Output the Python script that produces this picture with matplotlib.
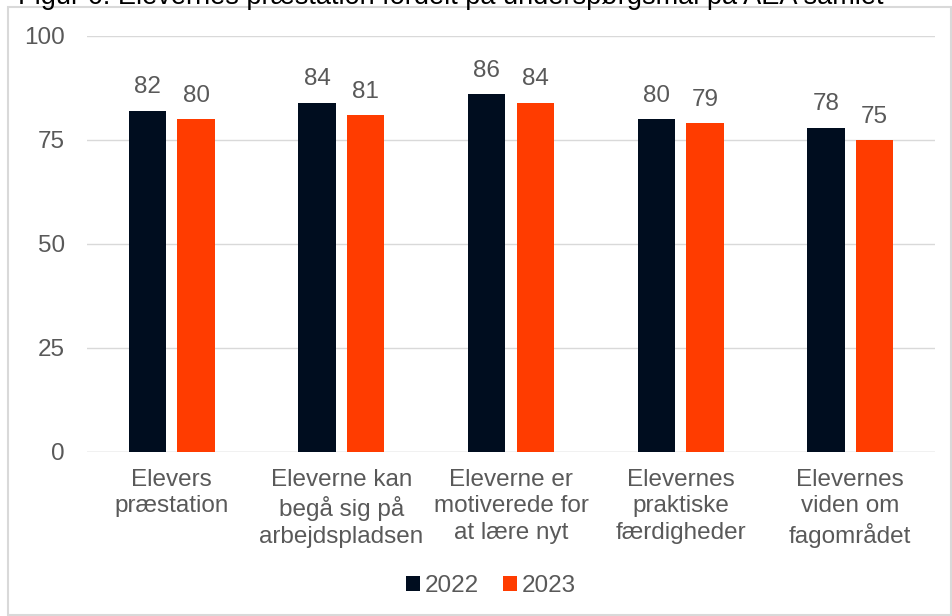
import numpy as np
import matplotlib.pyplot as plt
from matplotlib.patches import Rectangle

# data
categories = ['Elevers\npræstation', 'Eleverne kan\nbegå sig på\narbejdspladsen',
              'Eleverne er\nmotiverede for\nat lære nyt', 'Elevernes\npraktiske\nfærdigheder',
              'Elevernes\nviden om\nfagområdet']
v2022 = [82, 84, 86, 80, 78]
v2023 = [80, 81, 84, 79, 75]
yticks = [0, 25, 50, 75, 100]

plt.rcParams['font.family'] = ['Liberation Sans', 'DejaVu Sans']
grey = '#595959'
c22 = '#000D1F'
c23 = '#FF3C00'
fs = 17.5

fig = plt.figure(figsize=(9.52, 6.16), dpi=100)
# ramme om figuren
fig.patches.append(Rectangle((8 / 952, 0.002), 943 / 952, 1 - 7 / 616 - 0.002,
                             transform=fig.transFigure, fill=False,
                             edgecolor='#D9D9D9', linewidth=1.5))
# titel (skåret af i toppen som i originalen)
fig.text(18 / 952, 1 - 4 / 616, 'Figur 6: Elevernes præstation fordelt på underspørgsmål på AEA samlet',
         fontsize=19.5, color='black', va='baseline')

ax = fig.add_axes([87 / 952, 1 - 452 / 616, 848 / 952, 416 / 616])
x = np.arange(len(categories))
w = 0.22
b1 = ax.bar(x - 0.143, v2022, w, color=c22, label='2022', zorder=3)
b2 = ax.bar(x + 0.143, v2023, w, color=c23, label='2023', zorder=3)
for bars, vals in ((b1, v2022), (b2, v2023)):
    for r, v in zip(bars, vals):
        ax.text(r.get_x() + r.get_width() / 2, v + 3, str(v), ha='center', va='bottom',
                fontsize=fs, color=grey)

ax.set_xlim(-0.5, len(categories) - 0.5)
ax.set_ylim(0, 100)
ax.set_yticks(yticks)
ax.set_xticks(x)
ax.set_xticklabels(categories, fontsize=fs, color=grey, linespacing=1.27)
ax.tick_params(axis='y', labelsize=fs, labelcolor=grey, length=0, pad=16)
ax.tick_params(axis='x', length=0, pad=12)
ax.yaxis.grid(True, color='#D9D9D9', linewidth=1)
ax.set_axisbelow(True)
for s in ax.spines.values():
    s.set_visible(False)
ax.axhline(0, color='#D9D9D9', linewidth=1)

fig.legend(handles=[b1, b2], labels=['2022', '2023'], loc='center',
           bbox_to_anchor=(491 / 952, 1 - 586 / 616), ncol=2, frameon=False,
           fontsize=fs, labelcolor=grey, handlelength=0.55, handleheight=0.55,
           handletextpad=0.2, columnspacing=1.0)

fig.savefig('out.png', dpi=100)
